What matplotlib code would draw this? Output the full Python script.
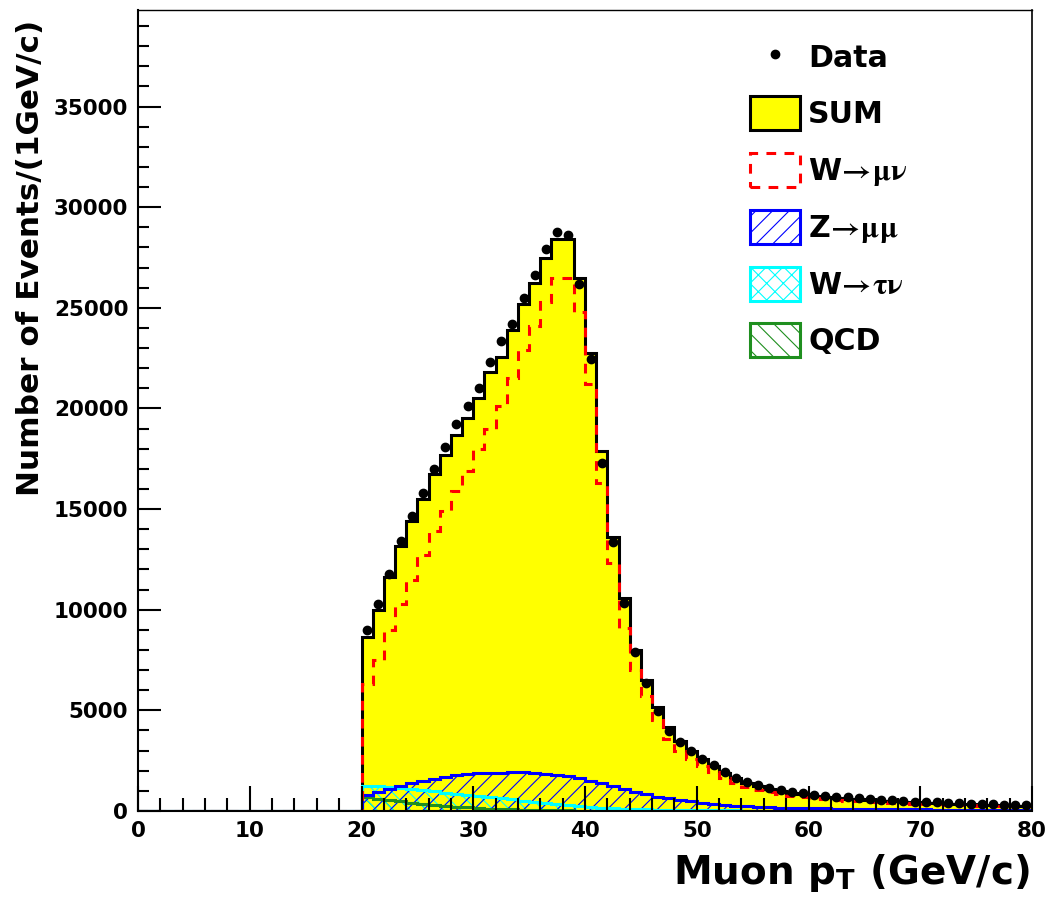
import numpy as np
import matplotlib
matplotlib.use('Agg')
import matplotlib.pyplot as plt
from matplotlib.patches import Patch
from matplotlib.lines import Line2D
from matplotlib.ticker import MultipleLocator

plt.rcParams['font.family'] = 'DejaVu Sans'
plt.rcParams['font.weight'] = 'bold'
plt.rcParams['axes.labelweight'] = 'bold'
plt.rcParams['mathtext.fontset'] = 'custom'
plt.rcParams['mathtext.rm'] = 'STIXGeneral'
plt.rcParams['mathtext.it'] = 'STIXGeneral'
plt.rcParams['mathtext.bf'] = 'DejaVu Sans:bold'
plt.rcParams['hatch.linewidth'] = 0.8
plt.rcParams['lines.scale_dashes'] = False

# %% values per 1 GeV bin, muon pT from 20 to 80 GeV/c (bins below 20 are empty)
pt_edges = np.arange(0, 81)
first_bin = 20

data_vals = [9000, 10300, 11800, 13400, 14650, 15800, 17000, 18100, 19250, 20100,
             21000, 22300, 23350, 24200, 25500, 26650, 27900, 28750, 28600, 26200,
             22450, 17300, 13350, 10350, 7900, 6350, 4970, 3970, 3430, 2980,
             2580, 2280, 1950, 1650, 1440, 1300, 1150, 1050, 950, 880,
             800, 760, 720, 680, 640, 600, 560, 530, 500, 470,
             450, 430, 410, 390, 370, 350, 330, 310, 300, 290]

sum_vals = [8650, 10000, 11650, 13150, 14400, 15500, 16750, 17700, 18700, 19550,
            20500, 21800, 22550, 23900, 25200, 26250, 27500, 28400, 28400, 26500,
            22750, 17900, 13600, 10600, 8000, 6500, 5150, 4150, 3500, 3000,
            2600, 2250, 1900, 1620, 1400, 1250, 1100, 1000, 900, 820,
            760, 710, 660, 620, 580, 550, 520, 490, 460, 430,
            410, 390, 370, 350, 330, 315, 300, 285, 270, 260]

wmunu_vals = [6300, 7500, 9000, 10300, 11500, 12700, 13900, 14900, 15900, 16900,
              18000, 19000, 20100, 21500, 22900, 24100, 25300, 26500, 26500, 24800,
              21200, 16300, 12300, 9100, 7000, 5700, 4500, 3600, 3000, 2600,
              2250, 1950, 1650, 1400, 1200, 1060, 940, 850, 770, 700,
              640, 600, 560, 520, 490, 460, 430, 410, 390, 370,
              350, 330, 310, 300, 285, 270, 260, 250, 240, 230]

zmumu_vals = [800, 950, 1100, 1250, 1400, 1500, 1600, 1700, 1780, 1830,
              1870, 1890, 1910, 1920, 1920, 1900, 1860, 1790, 1720, 1640,
              1500, 1400, 1250, 1100, 950, 830, 720, 640, 550, 480,
              420, 360, 310, 270, 240, 210, 190, 170, 160, 150,
              140, 130, 120, 110, 105, 100, 95, 90, 85, 80,
              76, 72, 68, 64, 60, 56, 52, 48, 45, 42]

wtaunu_vals = [1250, 1230, 1200, 1150, 1090, 1030, 970, 910, 850, 790,
               740, 690, 640, 580, 520, 460, 400, 350, 300, 250,
               210, 170, 140, 115, 95, 80, 68, 58, 50, 44,
               38, 33, 29, 26, 23, 20, 18, 16, 14, 12,
               11, 10, 9, 9, 8, 8, 7, 7, 6, 6,
               6, 5, 5, 5, 4, 4, 4, 4, 3, 3]

qcd_vals = [680, 620, 550, 480, 420, 360, 310, 260, 220, 180,
            150, 120, 100, 80, 65, 50, 40, 30, 25, 20,
            15, 12, 10, 9, 8, 8, 7, 7, 6, 6,
            6, 5, 5, 5, 5, 4, 4, 4, 4, 4,
            3, 3, 3, 3, 3, 3, 3, 3, 3, 3,
            3, 3, 3, 3, 3, 3, 3, 3, 3, 3]

labels = ['Data', 'SUM', r'W$\!\rightarrow\!\mu\nu$', r'Z$\!\rightarrow\!\mu\mu$',
          r'W$\!\rightarrow\!\tau\nu$', 'QCD']


def full(vals):
    return np.concatenate([np.zeros(first_bin), np.array(vals, dtype=float)])


yellow = '#ffff00'
green = '#1f8f1f'
lw = 2.2
dash = (0, (7, 6))

# %% main plot
fig = plt.figure(figsize=(10.49, 9.17), dpi=100)
ax = fig.add_axes([138/1049, 1-811/917, 894/1049, 801/917])

ax.stairs(full(sum_vals), pt_edges, fill=True, facecolor=yellow, edgecolor='none', zorder=1)
ax.stairs(full(sum_vals), pt_edges, color='black', lw=lw, zorder=1.05)

bkgs = [(qcd_vals, green, '\\\\'), (wtaunu_vals, 'cyan', 'xx'), (zmumu_vals, 'blue', '//')]
for vals, col, hatch in bkgs:
    ax.stairs(full(vals), pt_edges, fill=True, facecolor='none', edgecolor=col,
              hatch=hatch, lw=0, zorder=1.1)
for vals, col, hatch in bkgs:
    ax.stairs(full(vals), pt_edges, color=col, lw=lw, zorder=1.2)

ax.stairs(full(wmunu_vals), pt_edges, color='red', lw=lw, ls=dash, zorder=1.3)

centers = pt_edges[first_bin:-1] + 0.5
ax.plot(centers, data_vals, 'o', color='black', ms=6, zorder=3)

ax.set_axisbelow(False)
ax.set_xlim(0, 80)
ax.set_ylim(0, 39800)
ax.xaxis.set_major_locator(MultipleLocator(10))
ax.xaxis.set_minor_locator(MultipleLocator(2))
ax.yaxis.set_major_locator(MultipleLocator(5000))
ax.yaxis.set_minor_locator(MultipleLocator(1000))
ax.tick_params(which='both', direction='in', top=False, right=False, width=1.5,
               labelsize=15.5)
ax.tick_params(axis='x', which='major', length=18, pad=7)
ax.tick_params(axis='x', which='minor', length=9.5)
ax.tick_params(axis='y', which='major', length=16.5, pad=7)
ax.tick_params(axis='y', which='minor', length=8)
for s in ax.spines.values():
    s.set_linewidth(1.5)
ax.spines['top'].set_linewidth(1.0)
ax.spines['right'].set_linewidth(1.2)

ax.set_xlabel(r'Muon p$_{\mathbf{T}}$ (GeV/c)', fontsize=28)
ax.xaxis.set_label_coords(0.9978, -0.077)
ax.xaxis.label.set(ha='right', va='center')
ax.set_ylabel('Number of Events/(1GeV/c)', fontsize=22.4)
ax.yaxis.set_label_coords(-0.1197, 0.9875)
ax.yaxis.label.set(rotation_mode='default', ha='center', va='top')

handles = [
    Line2D([], [], ls='none', marker='o', color='black', ms=6),
    Patch(facecolor=yellow, edgecolor='black', lw=lw),
    Patch(facecolor='none', edgecolor='red', lw=lw, ls=dash),
    Patch(facecolor='none', edgecolor='blue', hatch='//', lw=lw),
    Patch(facecolor='none', edgecolor='cyan', hatch='xx', lw=lw),
    Patch(facecolor='none', edgecolor=green, hatch='\\\\', lw=lw),
]
ax.legend(handles, labels, loc='upper left', bbox_to_anchor=(750/1049, 1-40/917),
          bbox_transform=fig.transFigure, frameon=False, fontsize=21.6,
          handlelength=1.67, handleheight=1.37, handletextpad=0.27,
          labelspacing=0.74, borderpad=0, borderaxespad=0)

fig.savefig('out.png', dpi=100)
